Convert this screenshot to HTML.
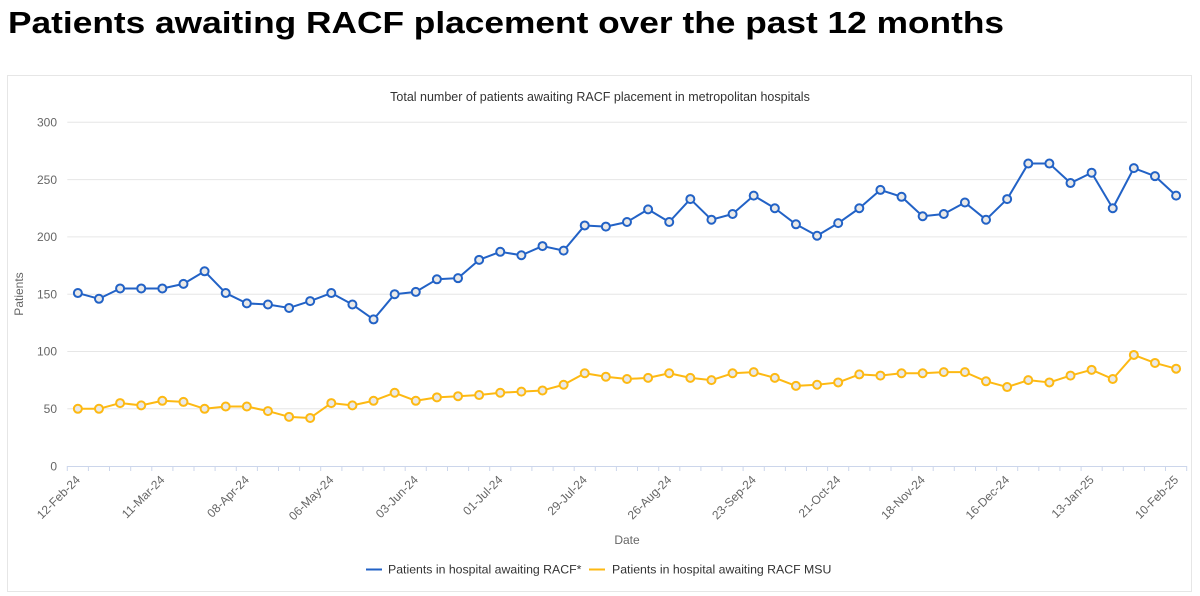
<!DOCTYPE html>
<html>
<head>
<meta charset="utf-8">
<style>
html,body{margin:0;padding:0;background:#fff;width:1200px;height:596px;overflow:hidden;}
svg{display:block;font-family:"Liberation Sans",Arial,sans-serif;}
</style>
</head>
<body>
<svg width="1200" height="596" viewBox="0 0 1200 596" xmlns="http://www.w3.org/2000/svg">
<defs>
<marker id="mb" markerWidth="14" markerHeight="14" refX="7" refY="7" markerUnits="userSpaceOnUse" overflow="visible">
<circle cx="7" cy="7" r="4" fill="#e9e9e9" stroke="#2262c6" stroke-width="2"/>
</marker>
<marker id="my" markerWidth="14" markerHeight="14" refX="7" refY="7" markerUnits="userSpaceOnUse" overflow="visible">
<circle cx="7" cy="7" r="4" fill="#e9e9e9" stroke="#fdb913" stroke-width="2"/>
</marker>
</defs>

<text x="8" y="33" font-size="31" font-weight="bold" fill="#000" textLength="996" lengthAdjust="spacingAndGlyphs">Patients awaiting RACF placement over the past 12 months</text>

<rect x="7.5" y="75.5" width="1184" height="516" fill="#fff" stroke="#e6e6e6" stroke-width="1"/>

<text x="600" y="101" font-size="12.5" fill="#333" text-anchor="middle">Total number of patients awaiting RACF placement in metropolitan hospitals</text>

<!-- gridlines -->
<g stroke="#e6e6e6" stroke-width="1">
<line x1="67.3" y1="122.3" x2="1187" y2="122.3"/>
<line x1="67.3" y1="179.6" x2="1187" y2="179.6"/>
<line x1="67.3" y1="236.9" x2="1187" y2="236.9"/>
<line x1="67.3" y1="294.2" x2="1187" y2="294.2"/>
<line x1="67.3" y1="351.5" x2="1187" y2="351.5"/>
<line x1="67.3" y1="408.8" x2="1187" y2="408.8"/>
</g>
<line x1="67.3" y1="466.5" x2="1187" y2="466.5" stroke="#ccd6eb" stroke-width="1"/>

<!-- ticks -->
<path stroke="#ccd6eb" stroke-width="1" fill="none" d="M67.3 466v5M88.4 466v5M109.5 466v5M130.7 466v5M151.8 466v5M172.9 466v5M194 466v5M215.1 466v5M236.3 466v5M257.4 466v5M278.5 466v5M299.6 466v5M320.7 466v5M341.9 466v5M363 466v5M384.1 466v5M405.2 466v5M426.3 466v5M447.5 466v5M468.6 466v5M489.7 466v5M510.8 466v5M531.9 466v5M553.1 466v5M574.2 466v5M595.3 466v5M616.4 466v5M637.5 466v5M658.7 466v5M679.8 466v5M700.9 466v5M722 466v5M743.1 466v5M764.3 466v5M785.4 466v5M806.5 466v5M827.6 466v5M848.7 466v5M869.9 466v5M891 466v5M912.1 466v5M933.2 466v5M954.3 466v5M975.5 466v5M996.6 466v5M1017.7 466v5M1038.8 466v5M1059.9 466v5M1081.1 466v5M1102.2 466v5M1123.3 466v5M1144.4 466v5M1165.5 466v5M1186.7 466v5"/>

<!-- y labels -->
<g font-size="12" fill="#666" text-anchor="end">
<text x="57" y="126.5">300</text>
<text x="57" y="183.8">250</text>
<text x="57" y="241.1">200</text>
<text x="57" y="298.4">150</text>
<text x="57" y="355.7">100</text>
<text x="57" y="413">50</text>
<text x="57" y="470.3">0</text>
</g>
<text x="23" y="294" font-size="12" fill="#666" text-anchor="middle" transform="rotate(-90 23 294)">Patients</text>

<!-- x labels -->
<g font-size="12" fill="#666" text-anchor="end">
<text x="80.9" y="480.5" transform="rotate(-45 80.9 480.5)">12-Feb-24</text>
<text x="165.3" y="480.5" transform="rotate(-45 165.3 480.5)">11-Mar-24</text>
<text x="249.8" y="480.5" transform="rotate(-45 249.8 480.5)">08-Apr-24</text>
<text x="334.3" y="480.5" transform="rotate(-45 334.3 480.5)">06-May-24</text>
<text x="418.8" y="480.5" transform="rotate(-45 418.8 480.5)">03-Jun-24</text>
<text x="503.3" y="480.5" transform="rotate(-45 503.3 480.5)">01-Jul-24</text>
<text x="587.7" y="480.5" transform="rotate(-45 587.7 480.5)">29-Jul-24</text>
<text x="672.2" y="480.5" transform="rotate(-45 672.2 480.5)">26-Aug-24</text>
<text x="756.7" y="480.5" transform="rotate(-45 756.7 480.5)">23-Sep-24</text>
<text x="841.2" y="480.5" transform="rotate(-45 841.2 480.5)">21-Oct-24</text>
<text x="925.7" y="480.5" transform="rotate(-45 925.7 480.5)">18-Nov-24</text>
<text x="1010.1" y="480.5" transform="rotate(-45 1010.1 480.5)">16-Dec-24</text>
<text x="1094.6" y="480.5" transform="rotate(-45 1094.6 480.5)">13-Jan-25</text>
<text x="1179.1" y="480.5" transform="rotate(-45 1179.1 480.5)">10-Feb-25</text>
</g>
<text x="627" y="544" font-size="12" fill="#666" text-anchor="middle">Date</text>

<!-- blue series -->
<polyline fill="none" stroke="#2262c6" stroke-width="2" stroke-linejoin="round" marker-start="url(#mb)" marker-mid="url(#mb)" marker-end="url(#mb)" points="77.86,293.05 98.98,298.78 120.10,288.47 141.22,288.47 162.34,288.47 183.46,283.89 204.58,271.28 225.70,293.05 246.82,303.37 267.94,304.51 289.06,307.95 310.18,301.08 331.30,293.05 352.42,304.51 373.54,319.41 394.66,294.20 415.78,291.91 436.90,279.30 458.02,278.16 479.14,259.82 500.26,251.80 521.38,255.24 542.50,246.07 563.62,250.65 584.74,225.44 605.86,226.59 626.98,222.00 648.10,209.40 669.22,222.00 690.34,199.08 711.46,219.71 732.58,213.98 753.70,195.64 774.82,208.25 795.94,224.29 817.06,235.75 838.18,223.15 859.30,208.25 880.42,189.91 901.54,196.79 922.66,216.27 943.78,213.98 964.90,202.52 986.02,219.71 1007.14,199.08 1028.26,163.56 1049.38,163.56 1070.50,183.04 1091.62,172.72 1112.74,208.25 1133.86,168.14 1154.98,176.16 1176.10,195.64"/>

<!-- yellow series -->
<polyline fill="none" stroke="#fdb913" stroke-width="2" stroke-linejoin="round" marker-start="url(#my)" marker-mid="url(#my)" marker-end="url(#my)" points="77.86,408.80 98.98,408.80 120.10,403.07 141.22,405.36 162.34,400.78 183.46,401.92 204.58,408.80 225.70,406.51 246.82,406.51 267.94,411.09 289.06,416.82 310.18,417.97 331.30,403.07 352.42,405.36 373.54,400.78 394.66,392.76 415.78,400.78 436.90,397.34 458.02,396.19 479.14,395.05 500.26,392.76 521.38,391.61 542.50,390.46 563.62,384.73 584.74,373.27 605.86,376.71 626.98,379.00 648.10,377.86 669.22,373.27 690.34,377.86 711.46,380.15 732.58,373.27 753.70,372.13 774.82,377.86 795.94,385.88 817.06,384.73 838.18,382.44 859.30,374.42 880.42,375.57 901.54,373.27 922.66,373.27 943.78,372.13 964.90,372.13 986.02,381.30 1007.14,387.03 1028.26,380.15 1049.38,382.44 1070.50,375.57 1091.62,369.84 1112.74,379.00 1133.86,354.94 1154.98,362.96 1176.10,368.69"/>

<!-- legend -->
<line x1="366" y1="569.5" x2="382" y2="569.5" stroke="#2262c6" stroke-width="2"/>
<text x="388" y="573.5" font-size="12.3" fill="#333">Patients in hospital awaiting RACF*</text>
<line x1="589" y1="569.5" x2="605" y2="569.5" stroke="#fdb913" stroke-width="2"/>
<text x="612" y="573.5" font-size="12.3" fill="#333">Patients in hospital awaiting RACF MSU</text>
</svg>
</body>
</html>
